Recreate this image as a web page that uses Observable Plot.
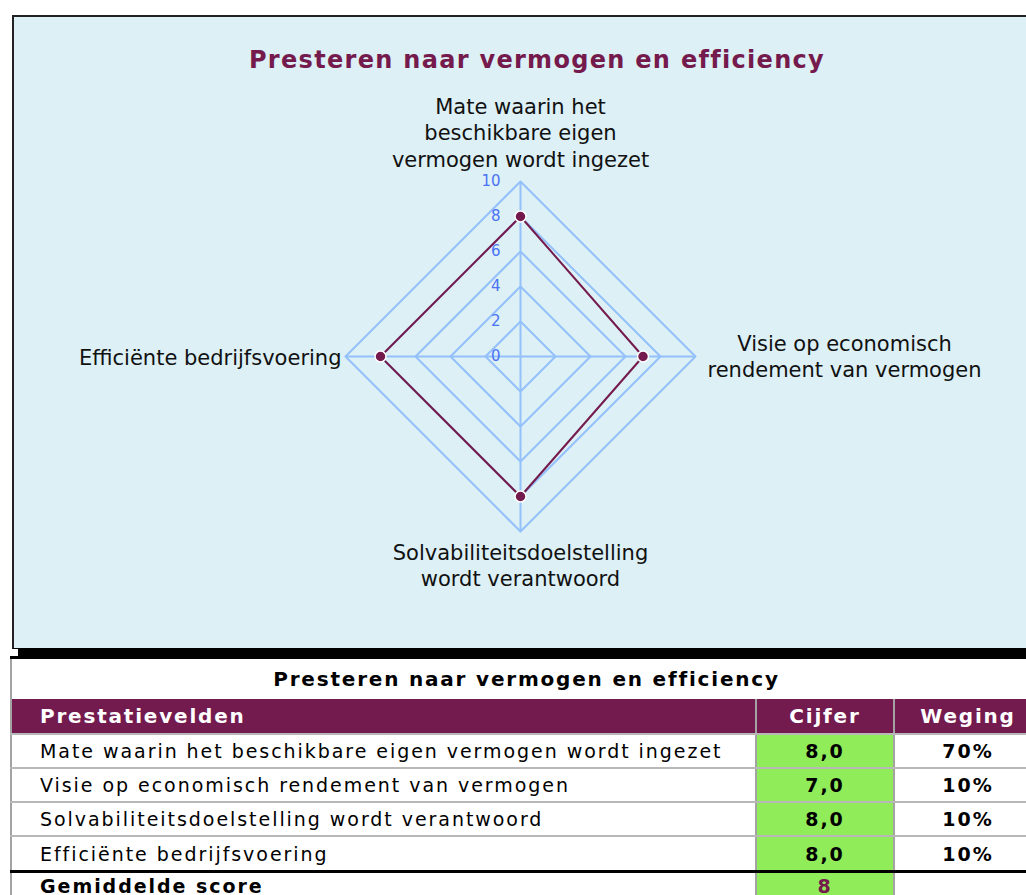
<!DOCTYPE html>
<html>
<head>
<meta charset="utf-8">
<script src="https://cdn.jsdelivr.net/npm/d3@7"></script>
<script src="https://cdn.jsdelivr.net/npm/@observablehq/plot@0.6"></script>
<style>
  html, body { margin: 0; padding: 0; background: #fff; overflow: hidden; }
  body { width: 1026px; height: 895px; position: relative; font-family: "DejaVu Sans", Verdana, sans-serif; }
  #box {
    position: absolute; left: 12px; top: 15px; width: 1030px; height: 631px;
    background: #dcf0f5; border: 1px solid #000; border-top: 2px solid #222; border-left: 2px solid #222;
    box-shadow: 6px 7px 0 #000;
  }
  #box svg { position: absolute; left: 0; top: 0; }
  #title {
    position: absolute; left: 0; top: 29px; width: 1046px; text-align: center;
    font-weight: bold; font-size: 24px; color: #751a4d; letter-spacing: 1.3px;
  }
  #tbl {
    position: absolute; left: 10px; top: 656px; border-collapse: collapse; table-layout: fixed; width: 1031px;
    font-size: 19px; letter-spacing: 1.95px;
  }
  #tbl td { padding: 0; border-left: 2px solid #a3a3a3; border-right: 2px solid #a3a3a3; border-bottom: 2px solid #b8b8b8; height: 32px; white-space: nowrap; }
  #tbl tr.ttl td { border-top: 3px solid #000; height: 40px; text-align: center; font-weight: bold; font-size: 20px; letter-spacing: 1.8px; border-bottom: none; }
  #tbl tr.hdr td { background: #731a4f; color: #fff; font-weight: bold; font-size: 20px; letter-spacing: 1.8px; height: 34px; }
  #tbl td.lab { padding-left: 28px; }
  #tbl td.num { text-align: center; font-weight: bold; }
  #tbl td.green { background: #91ec5a; }
  #tbl tr.last td { border-bottom: 3px solid #000; height: 33px; }
  #tbl tr.avg td { border-bottom: none; height: 26px; vertical-align: top; line-height: 26px; }
</style>
</head>
<body>
<div id="box"><div id="title">Presteren naar vermogen en efficiency</div></div>
<table id="tbl"></table>
<script>
// ---- data ----
const categories = [
  "Mate waarin het beschikbare eigen vermogen wordt ingezet",
  "Visie op economisch rendement van vermogen",
  "Solvabiliteitsdoelstelling wordt verantwoord",
  "Efficiënte bedrijfsvoering"
];
const axisLabels = [
  "Mate waarin het\nbeschikbare eigen\nvermogen wordt ingezet",
  "Visie op economisch\nrendement van vermogen",
  "Solvabiliteitsdoelstelling\nwordt verantwoord",
  "Efficiënte bedrijfsvoering"
];
const scores = [8, 7, 8, 8];
const weights = ["70%", "10%", "10%", "10%"];
const ticks = [0, 2, 4, 6, 8, 10];
const averageScore = "8";
const tableTitle = "Presteren naar vermogen en efficiency";
const headers = ["Prestatievelden", "Cijfer", "Weging"];

// ---- radar geometry helpers ----
const n = categories.length;
const ang = i => (i * 2 * Math.PI) / n; // clockwise from top
const pt = (i, r) => ({x: r * Math.sin(ang(i)), y: r * Math.cos(ang(i))});

const rings = ticks.filter(t => t > 0).flatMap(t =>
  d3.range(n + 1).map(i => ({ring: t, ...pt(i % n, t)}))
);
const spokes = d3.range(n).map(i => ({x1: 0, y1: 0, x2: pt(i, 10).x, y2: pt(i, 10).y}));
const series = d3.range(n + 1).map(i => ({...pt(i % n, scores[i % n]), v: scores[i % n]}));
const dots = series.slice(0, n);
const labels = axisLabels.map((t, i) => ({text: t, i, ...pt(i, 10)}));

const cx = 506, cy = 339, R = 175;
const gridColor = "#94c0fb";
const lineColor = "#751a4d";
const lab = {fontSize: 21, lineHeight: 1.24, fill: "#111", style: {letterSpacing: "1.1px"}};

const chart = Plot.plot({
  width: 1030, height: 631,
  margin: 0,
  style: {background: "transparent", fontFamily: "DejaVu Sans, Verdana, sans-serif", overflow: "visible"},
  x: {domain: [-10, 10], range: [cx - R, cx + R], axis: null},
  y: {domain: [-10, 10], range: [cy + R, cy - R], axis: null},
  marks: [
    Plot.line(rings, {x: "x", y: "y", z: "ring", stroke: gridColor, strokeWidth: 2, curve: "linear"}),
    Plot.link(spokes, {x1: "x1", y1: "y1", x2: "x2", y2: "y2", stroke: gridColor, strokeWidth: 2}),
    Plot.line(series, {x: "x", y: "y", stroke: lineColor, strokeWidth: 2}),
    Plot.dot(dots, {x: "x", y: "y", r: 5.5, fill: lineColor, stroke: "#fff", strokeWidth: 1.5}),
    Plot.text(ticks, {x: 0, y: d => d, text: d => String(d), textAnchor: "end", dx: -20, fill: "#4a72f5", fontSize: 15}),
    Plot.text(labels.filter(d => d.i === 0), {x: "x", y: "y", text: "text", textAnchor: "middle", lineAnchor: "bottom", dy: -15, ...lab}),
    Plot.text(labels.filter(d => d.i === 1), {x: "x", y: "y", text: "text", textAnchor: "middle", lineAnchor: "middle", dx: 149, dy: -1, ...lab}),
    Plot.text(labels.filter(d => d.i === 2), {x: "x", y: "y", text: "text", textAnchor: "middle", lineAnchor: "top", dy: 10, ...lab}),
    Plot.text(labels.filter(d => d.i === 3), {x: "x", y: "y", text: "text", textAnchor: "end", lineAnchor: "middle", dx: -4, dy: 0, ...lab})
  ]
});
document.getElementById("box").appendChild(chart);

// ---- table ----
const tbl = document.getElementById("tbl");
const colW = [745, 138, 148];
let html = `<colgroup>${colW.map(w => `<col style="width:${w}px">`).join("")}</colgroup>`;
html += `<tr class="ttl"><td colspan="3">${tableTitle}</td></tr>`;
html += `<tr class="hdr"><td class="lab">${headers[0]}</td><td class="num">${headers[1]}</td><td class="num">${headers[2]}</td></tr>`;
categories.forEach((c, i) => {
  html += `<tr class="${i === n - 1 ? "last" : ""}"><td class="lab">${c}</td><td class="num green">${d3.format(".1f")(scores[i]).replace(".", ",")}</td><td class="num">${weights[i]}</td></tr>`;
});
html += `<tr class="avg"><td class="lab" style="font-weight:bold">Gemiddelde score</td><td class="num green" style="color:#751a4d">${averageScore}</td><td></td></tr>`;
tbl.innerHTML = html;
</script>
</body>
</html>
